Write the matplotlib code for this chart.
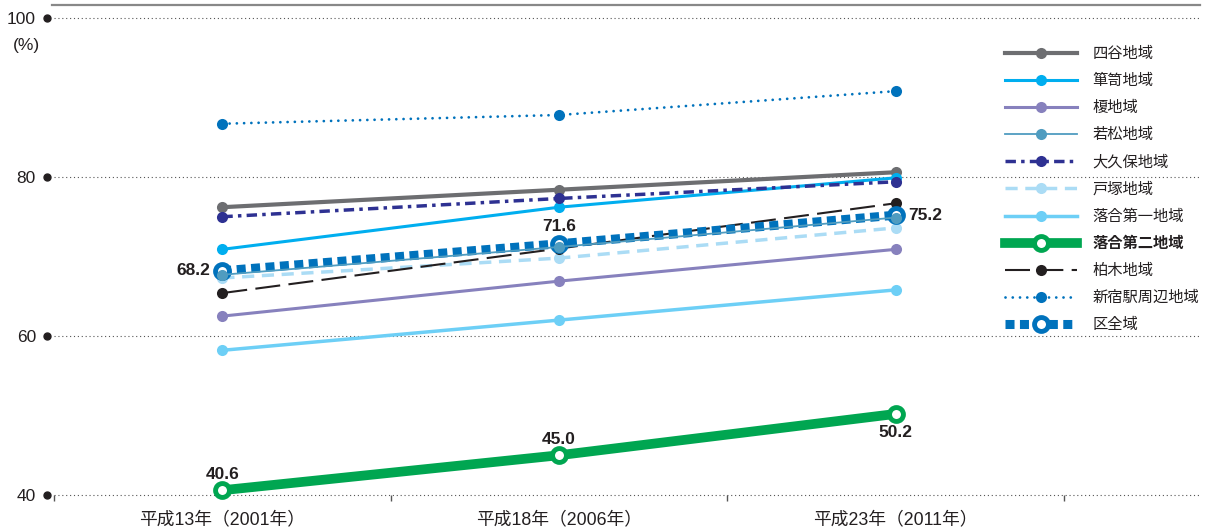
import matplotlib
matplotlib.use('Agg')
import matplotlib.pyplot as plt
import numpy as np

plt.rcParams['font.family'] = ['Liberation Sans', 'Noto Sans CJK JP', 'DejaVu Sans']

years = ['平成13年（2001年）', '平成18年（2006年）', '平成23年（2011年）']
areas = ['四谷地域', '箪笥地域', '榎地域', '若松地域', '大久保地域', '戸塚地域',
         '落合第一地域', '落合第二地域', '柏木地域', '新宿駅周辺地域', '区全域']
yotsuya = [76.2, 78.4, 80.6]
tansu = [70.9, 76.2, 79.9]
enoki = [62.5, 66.9, 70.9]
wakamatsu = [67.7, 71.2, 74.9]
okubo = [75.0, 77.3, 79.4]
totsuka = [67.3, 69.8, 73.6]
ochiai1 = [58.2, 62.0, 65.8]
ochiai2 = [40.6, 45.0, 50.2]
kashiwagi = [65.4, 71.0, 76.7]
shinjuku_eki = [86.7, 87.8, 90.8]
ku_zentai = [68.2, 71.6, 75.2]

values = [yotsuya, tansu, enoki, wakamatsu, okubo, totsuka,
          ochiai1, ochiai2, kashiwagi, shinjuku_eki, ku_zentai]

styles = [
    dict(color='#6d6e71', lw=3, ls='-', marker='o', ms=8, zorder=3),
    dict(color='#00aeef', lw=2.2, ls='-', marker='o', ms=8, zorder=3),
    dict(color='#8781bd', lw=2.2, ls='-', marker='o', ms=8, zorder=3),
    dict(color='#4f9cc0', lw=1.3, ls='-', marker='o', ms=8, zorder=3.5),
    dict(color='#2e3192', lw=2.5, ls=(0, (3, 1.5, 1, 1.5)), marker='o', ms=8, zorder=3),
    dict(color='#abdcf5', lw=2.5, ls=(0, (3.5, 2.2)), marker='o', ms=8, zorder=3),
    dict(color='#6dcff6', lw=2.5, ls='-', marker='o', ms=8, zorder=3),
    dict(color='#00a651', lw=7, ls='-', marker='o', ms=10, mfc='white', mew=3.5, zorder=4),
    dict(color='#231f20', lw=1.5, ls=(0, (12, 4)), marker='o', ms=8, zorder=3),
    dict(color='#0072bc', lw=2, ls=(0, (0.01, 2.6)), marker='o', ms=8, zorder=3,
         dash_capstyle='round'),
    dict(color='#0072bc', lw=6.5, ls=(0, (1, 0.6)), marker='o', ms=10, mfc='white', mew=3.5,
         zorder=3.2),
]

fig = plt.figure(figsize=(12.1, 5.3), dpi=100)
ax = fig.add_axes([54 / 1210, 35 / 530, 1146 / 1210, 477 / 530])
x = np.arange(len(years)) + 0.5

handles = []
for name, v, st in zip(areas, values, styles):
    st = dict(st)
    mfc = st.pop('mfc', st['color'])
    mew = st.pop('mew', 0)
    ln, = ax.plot(x, v, color=st['color'], lw=st['lw'], ls=st['ls'], marker=st['marker'],
                  ms=st['ms'], mfc=mfc, mec=st['color'], mew=mew, zorder=st['zorder'],
                  dash_capstyle=st.get('dash_capstyle', 'butt'), label=name, clip_on=False)
    handles.append(ln)

# data labels
lab_kw = dict(fontsize=12.5, fontweight='bold', color='#231f20')
ax.annotate(f'{ku_zentai[0]:.1f}', (x[0], ku_zentai[0]), xytext=(-9, 0), textcoords='offset points',
            ha='right', va='center', **lab_kw)
ax.annotate(f'{ku_zentai[1]:.1f}', (x[1], ku_zentai[1]), xytext=(0, 7), textcoords='offset points',
            ha='center', va='bottom', **lab_kw)
ax.annotate(f'{ku_zentai[2]:.1f}', (x[2], ku_zentai[2]), xytext=(9, 0), textcoords='offset points',
            ha='left', va='center', **lab_kw)
ax.annotate(f'{ochiai2[0]:.1f}', (x[0], ochiai2[0]), xytext=(0, 6), textcoords='offset points',
            ha='center', va='bottom', **lab_kw)
ax.annotate(f'{ochiai2[1]:.1f}', (x[1], ochiai2[1]), xytext=(0, 6), textcoords='offset points',
            ha='center', va='bottom', **lab_kw)
ax.annotate(f'{ochiai2[2]:.1f}', (x[2], ochiai2[2]), xytext=(0, -8), textcoords='offset points',
            ha='center', va='top', **lab_kw)

ax.set_xlim(0, 1146 / 336.7)
ax.set_ylim(40, 100)
for s in ax.spines.values():
    s.set_visible(False)

yt = [40, 60, 80, 100]
ax.set_yticks(yt)
ax.set_yticklabels([str(t) for t in yt], fontsize=12.5, color='#231f20')
ax.tick_params(axis='y', length=0, pad=13)
for t in yt:
    ax.axhline(t, color='#555555', lw=0.8, ls=(0, (1, 2.5)), zorder=1, clip_on=False)
ax.plot([-0.0061] * len(yt), yt, 'o', color='#231f20', ms=5, clip_on=False,
        transform=ax.get_yaxis_transform(), zorder=5)

ax.set_xticks([0, 1, 2, 3])
ax.set_xticklabels([])
ax.tick_params(axis='x', which='major', length=4, width=1, color='#555555', direction='out')
ax.set_xticks(x, minor=True)
ax.set_xticklabels(years, minor=True, fontsize=12.8, color='#231f20')
ax.tick_params(axis='x', which='minor', length=0, pad=12)

ax.text(-0.0244, 0.943, '(%)', transform=ax.transAxes, ha='center', va='center',
        fontsize=12.5, color='#231f20')

# top rule
ax.plot([-0.0017, 1.0], [1.027, 1.027], color='#888888', lw=1.6, transform=ax.transAxes,
        clip_on=False)

leg = ax.legend(handles=handles, loc='upper left', bbox_to_anchor=(1005 / 1210, 1 - 47 / 530),
                bbox_transform=fig.transFigure, frameon=False, fontsize=11, numpoints=1,
                handlelength=4.7, handletextpad=1.05, labelspacing=0.835, borderpad=0,
                borderaxespad=0)
for t in leg.get_texts():
    t.set_color('#231f20')
    if t.get_text() == '落合第二地域':
        t.set_fontweight('bold')

fig.savefig('out.png', dpi=100)
